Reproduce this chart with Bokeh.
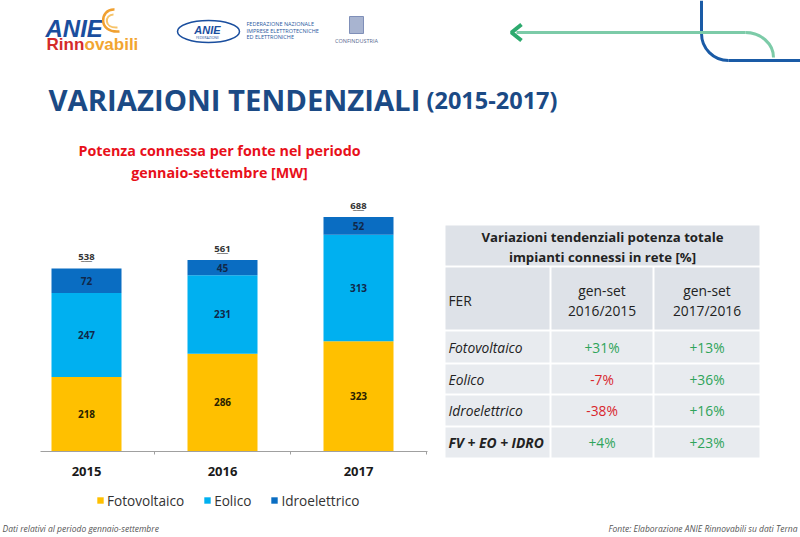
import numpy as np
from bokeh.plotting import figure
from bokeh.models import (Range1d, LinearAxis, FixedTicker, Legend, LegendItem,
                          ColumnDataSource)
from bokeh.core.properties import value
from bokeh.embed import file_html
from bokeh.resources import INLINE

# ---------------- data ----------------
years = ["2015", "2016", "2017"]
fotovoltaico = [218, 286, 323]
eolico = [247, 231, 313]
idroelettrico = [72, 45, 52]
totals = [538, 561, 688]
series_names = ["Fotovoltaico", "Eolico", "Idroelettrico"]

fer_rows = ["Fotovoltaico", "Eolico", "Idroelettrico", "FV + EO + IDRO"]
var_2016_2015 = [31, -7, -38, 4]
var_2017_2016 = [13, 36, 16, 23]

# ---------------- layout constants (pixels of the slide) ----------------
W, H = 800, 537
OFF = 0
BAR0_PX, STEP_PX = 86, 136  # centre of first bar, spacing
BASE_PX, PX_PER_MW = 450.5, 0.34

YEL, LBLUE, DBLUE = "#FFC000", "#00B0F0", "#0A6DC2"
NAVY = "#1B4A85"
FONT = "Open Sans"

x0 = (OFF - BAR0_PX) / STEP_PX
x1 = (OFF + W - BAR0_PX) / STEP_PX
y0 = -(OFF + H - BASE_PX) / PX_PER_MW
y1 = (BASE_PX - OFF) / PX_PER_MW

p = figure(width=W, height=H, output_backend="svg", toolbar_location=None,
           x_range=Range1d(x0, x1), y_range=Range1d(y0, y1),
           x_axis_location=None, y_axis_location=None, min_border=0,
           outline_line_color=None, title=None)
p.grid.visible = False
p.background_fill_color = "white"
p.border_fill_color = "white"
p.extra_x_ranges = {"px": Range1d(OFF, OFF + W)}
p.extra_y_ranges = {"py": Range1d(OFF + H, OFF)}


def txt(x, y, s, size, color="#222222", style="normal", align="left",
        baseline="middle", font=FONT):
    p.text(x=[x], y=[y], text=[s], text_font=value(font),
           text_font_size=f"{size}px", text_font_style=style,
           text_color=color, text_align=align, text_baseline=baseline,
           x_range_name="px", y_range_name="py")


def pline(xs, ys, color, width):
    p.line(xs, ys, line_color=color, line_width=width,
           x_range_name="px", y_range_name="py")


def bez(a, b, c0, c1, color, width):
    p.bezier(x0=[a[0]], y0=[a[1]], x1=[b[0]], y1=[b[1]],
             cx0=[c0[0]], cy0=[c0[1]], cx1=[c1[0]], cy1=[c1[1]],
             line_color=color, line_width=width,
             x_range_name="px", y_range_name="py")

# ---------------- header decorations ----------------
txt(45, 28, "ANIE", 24, color="#1A4E9E", style="bold italic",
    baseline="alphabetic", font="Liberation Sans")
txt(46, 44, "Rinn", 17, color="#D42A2A", style="bold",
    baseline="alphabetic", font="Liberation Sans")
txt(84, 44, "ovabili", 17, color="#F2A531", style="bold",
    baseline="alphabetic", font="Liberation Sans")
bez((114, 9), (119, 31), (99, 8), (97, 33), "#F0A030", 2.5)
bez((113, 14), (117, 27), (104, 14), (103, 28), "#F7C46A", 2)

p.ellipse(x=[208], y=[31], width=62, height=22, fill_color=None,
          line_color="#1A4E9E", line_width=1.5,
          x_range_name="px", y_range_name="py")
txt(207, 29, "ANIE", 11, color="#1A4E9E", style="bold italic",
    align="center", font="Liberation Sans")
txt(207, 37, "FEDERAZIONE", 3.5, color="#1A4E9E", align="center")
for i, s in enumerate(["FEDERAZIONE NAZIONALE", "IMPRESE ELETTROTECNICHE",
                       "ED ELETTRONICHE"]):
    txt(246, 23.5 + 6.5 * i, s, 5.5, color="#2A5AA0")
p.quad(left=[349], right=[363], top=[16], bottom=[33], fill_color="#A8B4D0",
       line_color="#7F8FB8", x_range_name="px", y_range_name="py")
txt(356, 40, "CONFINDUSTRIA", 5.5, color="#5A6A90", align="center")

# arrow and arcs top right
pline([701, 701], [0, 33], "#1A5BA6", 3)
bez((701, 33), (728, 60), (701, 48), (713, 60), "#1A5BA6", 3)
pline([728, 800], [60, 60], "#1A5BA6", 3)
pline([516, 745], [32, 32], "#7CCBA8", 3)
bez((745, 32), (773, 57), (760, 32), (773, 43), "#7CCBA8", 3)
pline([521, 511, 521], [24, 32, 40], "#2DAA6E", 4)

# ---------------- titles ----------------
txt(48, 99.5, "VARIAZIONI TENDENZIALI", 29.3, color=NAVY, style="bold",
    baseline="alphabetic")
txt(426, 99.5, "(2015-2017)", 23.5, color=NAVY, style="bold",
    baseline="alphabetic")
txt(219, 150, "Potenza connessa per fonte nel periodo", 14.3,
    color="#E8101A", style="bold", align="center")
txt(219, 172, "gennaio-settembre [MW]", 14.3, color="#E8101A",
    style="bold", align="center")

# ---------------- stacked bars ----------------
xs = list(range(len(years)))
src = ColumnDataSource(dict(x=xs, fotovoltaico=fotovoltaico, eolico=eolico,
                            idroelettrico=idroelettrico))
rs = p.vbar_stack(["fotovoltaico", "eolico", "idroelettrico"], x="x",
                  width=70 / STEP_PX, color=[YEL, LBLUE, DBLUE],
                  line_color=None, source=src)

stack = np.array([fotovoltaico, eolico, idroelettrico], dtype=float)
bottoms = np.vstack([np.zeros(len(years)), np.cumsum(stack, axis=0)[:-1]])
mids = bottoms + stack / 2
lab_colors = ["#2A2200", "#10284A", "#10284A"]
for k in range(3):
    p.text(x=xs, y=list(mids[k]), text=[str(v) for v in stack[k].astype(int)],
           text_font=value(FONT), text_font_size="10px",
           text_font_style="bold", text_color=lab_colors[k],
           text_align="center", text_baseline="middle")

p.text(x=xs, y=totals, text=[str(t) for t in totals], y_offset=-11,
       text_font=value(FONT), text_font_size="9.5px", text_font_style="bold",
       text_color="#333333", text_align="center", text_baseline="middle")
p.text(x=xs, y=totals, text=["___" for t in totals], y_offset=-12,
       text_font=value(FONT), text_font_size="8.5px",
       text_color="#333333", text_align="center", text_baseline="middle")

ax = LinearAxis(fixed_location=0,
                ticker=FixedTicker(ticks=xs, minor_ticks=[0.5, 1.5, 2.5]),
                major_label_overrides={i: y for i, y in enumerate(years)},
                bounds=(-0.34, 2.51))
ax.axis_line_color = "#A0A0A0"
ax.major_tick_line_color = None
ax.minor_tick_line_color = "#A0A0A0"
ax.minor_tick_in = 0
ax.minor_tick_out = 3
ax.major_label_text_font = FONT
ax.major_label_text_font_size = "13px"
ax.major_label_text_font_style = "bold"
ax.major_label_text_color = "#1A1A1A"
ax.major_label_standoff = 10
p.add_layout(ax, "below")

legend = Legend(items=[LegendItem(label=n, renderers=[r])
                       for n, r in zip(series_names, rs)],
                orientation="horizontal", location=(96, 27),
                glyph_width=8, glyph_height=8, label_standoff=3, spacing=19,
                padding=0, margin=0, border_line_color=None,
                background_fill_alpha=0, label_text_font=FONT,
                label_text_font_size="13.6px", label_text_color="#333333",
                label_height=20)
p.add_layout(legend)

# ---------------- table ----------------
COLS = [(445, 549), (551, 652), (654, 759)]
TITLE_ROW = (225, 265)
HEAD_ROW = (267, 329)
BODY_ROWS = [(331, 362), (364, 393), (395, 425), (427, 457)]
CELL_HEAD, CELL_BODY = "#DEE2E8", "#E8EBEF"

p.quad(left=[COLS[0][0]], right=[COLS[2][1]], top=[TITLE_ROW[0]],
       bottom=[TITLE_ROW[1]], fill_color=CELL_HEAD, line_color=None,
       x_range_name="px", y_range_name="py")
for (l, r) in COLS:
    p.quad(left=[l], right=[r], top=[HEAD_ROW[0]], bottom=[HEAD_ROW[1]],
           fill_color=CELL_HEAD, line_color=None,
           x_range_name="px", y_range_name="py")
    for (t, b) in BODY_ROWS:
        p.quad(left=[l], right=[r], top=[t], bottom=[b],
               fill_color=CELL_BODY, line_color=None,
               x_range_name="px", y_range_name="py")

tcx = (COLS[0][0] + COLS[2][1]) / 2
txt(tcx, 236, "Variazioni tendenziali potenza totale", 13.2, style="bold",
    align="center")
txt(tcx, 256, "impianti connessi in rete [%]", 13.2, style="bold",
    align="center")
TS = 13.8
txt(448, 300, "FER", TS)
c2 = (COLS[1][0] + COLS[1][1]) / 2
c3 = (COLS[2][0] + COLS[2][1]) / 2
for cx, lab in [(c2, "2016/2015"), (c3, "2017/2016")]:
    txt(cx, 290, "gen-set", TS, align="center")
    txt(cx, 310, lab, TS, align="center")

GREEN, RED = "#2FA45A", "#D9262E"
for i, (name, (t, b)) in enumerate(zip(fer_rows, BODY_ROWS)):
    cy = (t + b) / 2
    style = "bold italic" if i == len(fer_rows) - 1 else "italic"
    txt(448, cy, name, TS, style=style)
    for cx, v in [(c2, var_2016_2015[i]), (c3, var_2017_2016[i])]:
        txt(cx, cy, f"{v:+d}%", TS, color=GREEN if v >= 0 else RED,
            align="center")

# ---------------- footers ----------------
txt(2, 528, "Dati relativi al periodo gennaio-settembre", 8.5,
    color="#555555", style="italic")
txt(797, 528, "Fonte: Elaborazione ANIE Rinnovabili su dati Terna", 8.5,
    color="#555555", style="italic", align="right")

open("out.html", "w").write(file_html(p, INLINE))
